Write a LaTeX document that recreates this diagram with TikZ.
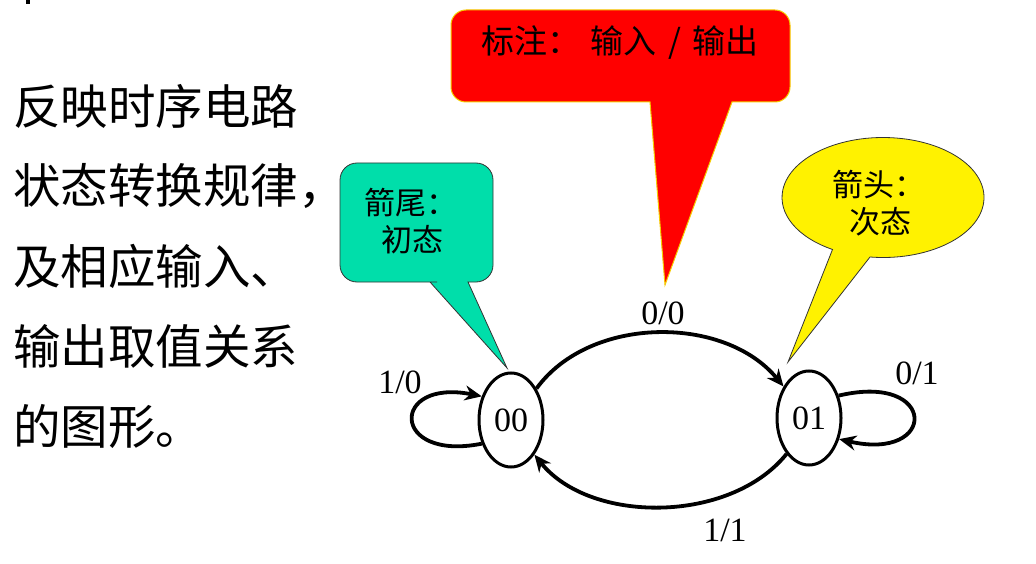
\documentclass[tikz,border=0pt]{standalone}
\usepackage{fontspec}
\setmainfont{Noto Sans CJK SC}
\newfontfamily\chiffres{Liberation Serif}
\usetikzlibrary{arrows.meta,shapes.geometric}

\definecolor{vertbulle}{RGB}{0,222,170}
\definecolor{bordjaune}{RGB}{245,205,0}

\begin{document}
\begin{tikzpicture}[x=1pt, y=-1pt,
    etat/.style={draw, ellipse, line width=3pt, minimum width=64pt, minimum height=94pt, inner sep=0pt, font=\chiffres\fontsize{34}{34}\selectfont},
    trans/.style={->, line width=3.8pt},
    lbl/.style={inner sep=0pt, font=\chiffres\fontsize{34}{34}\selectfont},
    texte/.style={anchor=west, inner sep=0pt, font=\fontsize{47.5}{47.5}\selectfont},
    bulle/.style={anchor=west, inner sep=0pt, font=\fontsize{31}{31}\selectfont},
    >={Stealth[length=17pt,width=15pt]}]
    \useasboundingbox (0,0) rectangle (1036,564);
    \fill (26,0) rectangle (30,4);

    % Texte à gauche
    \node[texte] (t1) at (13,106) {反映时序电路};
    \node[texte] (t2) at (13,186) {状态转换规律，};
    \node[texte] (t3) at (13,266) {及相应输入、};
    \node[texte] (t4) at (13,346) {输出取值关系};
    \node[texte] (t5) at (13,426) {的图形。};

    % Bulles
    \filldraw[fill=red, draw=bordjaune, line width=1pt] (650,102) -- (665,285) -- (732,102) -- (740,102)
        [rounded corners=15pt] -- (790,102) -- (790,10) -- (451,10) -- (451,102) -- (600,102)
        [sharp corners] -- (650,102) -- cycle;
    \node[inner sep=0pt, font=\fontsize{33}{33}\selectfont] (titre) at (620,43)
        {标注：\hspace{10pt}输入\hspace{12pt}/\hspace{12pt}输出};

    \filldraw[fill=vertbulle, draw=black!80, line width=0.8pt] (430,282) -- (507,368) -- (468,282) -- (475,282)
        [rounded corners=17pt] -- (493,282) -- (493,163) -- (340,163) -- (340,282) -- (420,282)
        [sharp corners] -- (430,282) -- cycle;
    \node[bulle] (queue1) at (364,203) {箭尾：};
    \node[bulle] (queue2) at (381,240) {初态};

    \filldraw[fill=yellow, draw=black!80, line width=0.8pt] (788,362) -- (870,257)
        arc[start angle=97.4, end angle=-240, x radius=101, y radius=60] -- cycle;
    \node[bulle] (tete1) at (832,185) {箭头：};
    \node[bulle] (tete2) at (849,222) {次态};

    % Etats
    \node[etat] (st00) at (511,420) {00};
    \node[etat] (st01) at (809,418) {01};

    % Transitions
    \draw[trans] (st00.51) .. controls (590,315) and (725,315) .. (st01.129);
    \draw[trans] (st01.238) .. controls (730,524) and (590,524) .. (st00.304);
    \draw[trans] (st00.219) .. controls (390,462) and (390,378) .. (st00.141);
    \draw[trans] (st01.37) .. controls (938,372) and (938,462) .. (st01.325);

    % Etiquettes entrée/sortie
    \node[lbl] (l10) at (400,382) {1/0};
    \node[lbl] (l00) at (663,313) {0/0};
    \node[lbl] (l01) at (917,373) {0/1};
    \node[lbl] (l11) at (725,530) {1/1};
\end{tikzpicture}
\end{document}
